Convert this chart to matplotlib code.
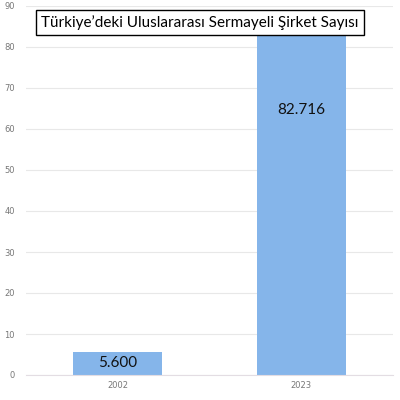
import matplotlib
matplotlib.use("Agg")
import matplotlib.pyplot as plt

years = ["2002", "2023"]
values = [5.6, 82.716]
value_labels = ["5.600", "82.716"]
label_heights = [2.9, 64.6]
y_ticks = [0, 10, 20, 30, 40, 50, 60, 70, 80, 90]
title = "Türkiye’deki Uluslararası Sermayeli Şirket Sayısı"

bar_color = "#85b5ea"

fig = plt.figure(figsize=(4, 4), dpi=100)
ax = fig.add_axes([0.065, 0.0625, 0.9175, 0.9225])

x = list(range(len(years)))
ax.bar(x, values, width=0.485, color=bar_color, zorder=2)

for xi, lab, h in zip(x, value_labels, label_heights):
    ax.text(xi, h, lab, ha="center", va="center", fontsize=11,
            family="Lato", color="#111111", zorder=3)

ax.set_xlim(-0.5, 1.5)
ax.set_ylim(0, 90)
ax.set_xticks(x)
ax.set_xticklabels(years)
ax.set_yticks(y_ticks)
ax.tick_params(axis="both", length=0, labelsize=6, colors="#777777")
ax.tick_params(axis="y", pad=8)
ax.tick_params(axis="x", pad=4)
ax.grid(axis="y", color="#e8e8e8", linewidth=0.8, zorder=0)
for side in ["top", "right", "left"]:
    ax.spines[side].set_visible(False)
ax.spines["bottom"].set_color("#e3dde3")
ax.spines["bottom"].set_linewidth(0.8)

fig.text(0.5, 0.944, title, ha="center", va="center", fontsize=11,
         family="Lato", color="black",
         bbox=dict(boxstyle="square,pad=0.33", facecolor="white",
                   edgecolor="black", linewidth=1))

fig.savefig("out.png", dpi=100, facecolor="white")
